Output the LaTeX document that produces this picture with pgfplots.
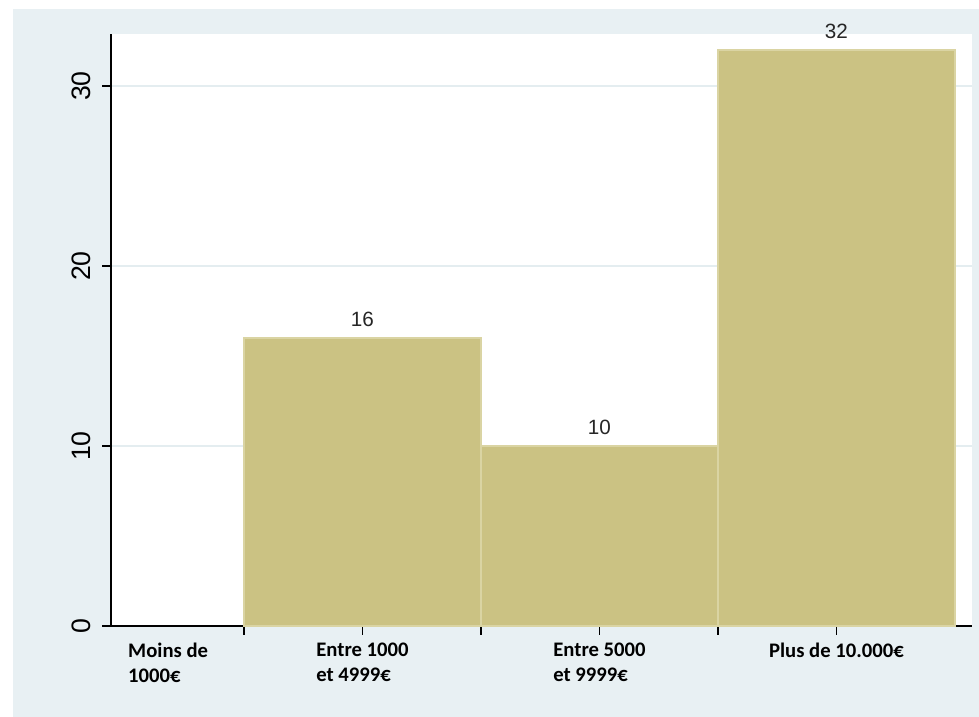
\documentclass[border=0pt]{standalone}
\usepackage{pgfplots}
\pgfplotsset{compat=1.18}
\usepackage{fontspec}
\setmainfont{Liberation Sans}
\newfontfamily\calfont{Carlito}
\definecolor{bgc}{RGB}{232,240,243}
\definecolor{barc}{RGB}{203,194,131}
\definecolor{bord}{RGB}{218,212,163}
\definecolor{gridc}{RGB}{228,237,240}
\begin{document}
\begin{tikzpicture}
\useasboundingbox (-83.25pt,-68.25pt) rectangle (651pt,469.5pt);
\fill[bgc] (-73.5pt,-68.25pt) rectangle (651pt,462.75pt);
\begin{axis}[
  at={(0pt,0pt)}, anchor=south west,
  scale only axis, width=645.75pt, height=444pt,
  xmin=0.439, xmax=4.072, ymin=0, ymax=32.89,
  axis background/.style={fill=white},
  axis x line*=bottom, axis y line*=left,
  axis line style={black, line width=1pt},
  xtick style={black, line width=1.4pt},
  ytick style={black, line width=1.4pt},
  tick align=outside, major tick length=6.5pt,
  ytick={0,10,20,30},
  ymajorgrids, grid style={gridc, line width=1.5pt},
  yticklabel style={rotate=90, anchor=south, font=\fontsize{20}{22}\selectfont},
  yticklabel shift=5pt,
  /pgf/number format/assume math mode=true,
  xtick={1,1.5,2,2.5,3,3.5},
  xticklabels={{},{Entre 1000\\et 4999€},{},{Entre 5000\\et 9999€},{},{Plus de 10.000€}},
  xticklabel style={align=left, font=\calfont\bfseries\fontsize{15.5}{18.75}\selectfont, anchor=north, yshift=-3pt},
  extra x ticks={0.68},
  extra x tick labels={{Moins de\\1000€}},
  extra x tick style={xtick style={draw=none}},
  clip=false,
]
\addplot[ybar interval, fill=barc, draw=bord, line width=1.5pt]
  coordinates {(1,16) (2,10) (3,32) (4,32)};
\addplot[only marks, mark=none, nodes near coords, point meta=explicit symbolic,
  every node near coord/.append style={font=\fontsize{15.5}{17}\selectfont, anchor=south, yshift=5pt, text=black!85}]
  coordinates {(1.5,16) [16] (2.5,10) [10] (3.5,32) [32]};
\end{axis}
\end{tikzpicture}
\end{document}
